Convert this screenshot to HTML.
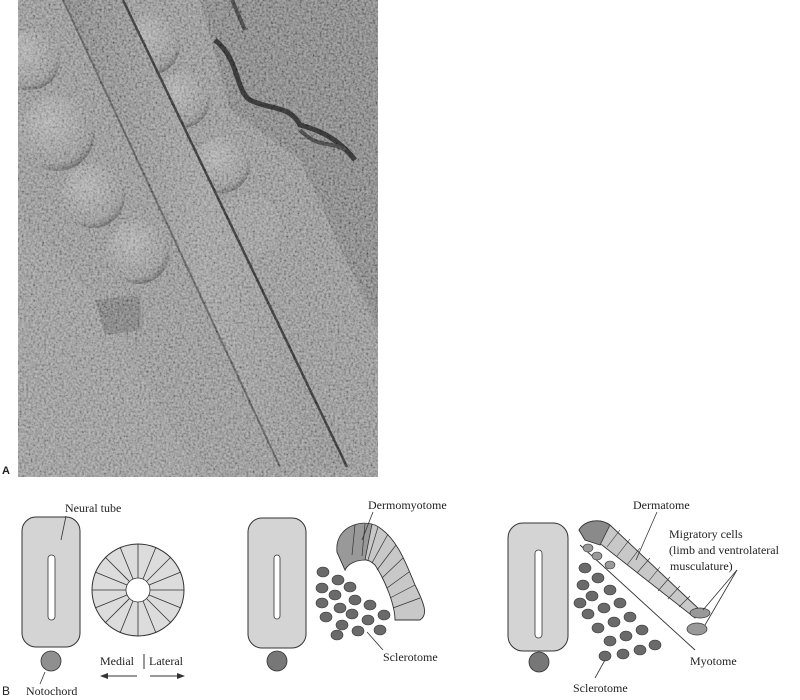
<!DOCTYPE html>
<html><head><meta charset="utf-8"><style>
html,body{margin:0;padding:0;background:#fff;}
svg{display:block;}
text{font-family:"Liberation Serif",serif;fill:#222;}
</style></head><body>
<svg width="800" height="700" viewBox="0 0 800 700" xmlns="http://www.w3.org/2000/svg">
<defs>
<filter id="n" x="0" y="0" width="100%" height="100%">
<feTurbulence type="fractalNoise" baseFrequency="0.45" numOctaves="3" seed="3"/>
<feColorMatrix type="matrix" values="1.6 0 0 0 -0.3  1.6 0 0 0 -0.3  1.6 0 0 0 -0.3  0 0 0 0 1"/>
</filter>
<radialGradient id="ball" cx="0.4" cy="0.35" r="0.7">
<stop offset="0" stop-color="#a6a6a6"/><stop offset="0.8" stop-color="#8a8a8a"/><stop offset="1" stop-color="#5a5a5a"/>
</radialGradient>
<linearGradient id="tube" x1="0" y1="0" x2="1" y2="0">
<stop offset="0" stop-color="#7a7a7a"/><stop offset="0.5" stop-color="#959595"/><stop offset="1" stop-color="#858585"/>
</linearGradient>
<clipPath id="ph"><rect x="18" y="0" width="360" height="477"/></clipPath>
</defs>
<g clip-path="url(#ph)">
<rect x="18" y="0" width="360" height="477" fill="#8c8c8c"/>
<polygon points="200,0 378,0 378,330 300,160 230,110" fill="#7c7c7c"/>
<path d="M215,40 C240,60 235,90 250,100 C270,110 290,105 300,125 C320,130 340,140 355,160" stroke="#333" stroke-width="5" fill="none"/>
<path d="M300,130 C320,150 330,140 345,150" stroke="#444" stroke-width="4" fill="none"/>
<path d="M232,0 L245,30" stroke="#444" stroke-width="4"/>
<polygon points="18,220 100,300 200,477 18,477" fill="#909090"/>
<circle cx="57" cy="133" r="38" fill="url(#ball)"/>
<circle cx="30" cy="60" r="30" fill="url(#ball)"/>
<circle cx="93" cy="196" r="32" fill="url(#ball)"/>
<circle cx="138" cy="252" r="32" fill="url(#ball)"/>
<circle cx="150" cy="45" r="30" fill="url(#ball)"/>
<circle cx="182" cy="100" r="28" fill="url(#ball)"/>
<circle cx="222" cy="165" r="28" fill="url(#ball)"/>
<circle cx="250" cy="225" r="30" fill="#929292"/>
<polygon points="95,300 140,295 142,330 105,335" fill="#777"/>
<polygon points="63,0 123,0 347,467 280,467" fill="url(#tube)"/>
<path d="M123,0 L347,467" stroke="#3a3a3a" stroke-width="2.5"/>
<path d="M63,0 L280,467" stroke="#5a5a5a" stroke-width="2"/>
<rect x="18" y="0" width="360" height="477" filter="url(#n)" opacity="0.4" style="mix-blend-mode:overlay"/>
</g>
<text x="2" y="474" font-size="11" font-weight="bold" style="font-family:'Liberation Sans',sans-serif">A</text>

<!-- Panel 1 -->
<rect x="22" y="517" width="58" height="130" rx="14" fill="#d4d4d4" stroke="#333" stroke-width="1"/>
<rect x="48" y="555" width="7" height="65" rx="3.5" fill="#fff" stroke="#333" stroke-width="0.8"/>
<circle cx="51" cy="661" r="10" fill="#8f8f8f" stroke="#333" stroke-width="0.8"/>
<line x1="66" y1="516" x2="61" y2="540" stroke="#333" stroke-width="0.8"/>
<line x1="45" y1="672" x2="40" y2="684" stroke="#333" stroke-width="0.8"/>
<text x="65" y="512" font-size="12">Neural tube</text>
<text x="26" y="695" font-size="12">Notochord</text>
<text x="2" y="695" font-size="12" style="font-family:'Liberation Sans',sans-serif">B</text>
<g transform="translate(-2,8)">
<circle cx="140" cy="582" r="46" fill="#dcdcdc" stroke="#333" stroke-width="1"/>
<g stroke="#333" stroke-width="0.8">
<line x1="140" y1="536" x2="140" y2="570"/><line x1="140" y1="594" x2="140" y2="628"/>
<line x1="94" y1="582" x2="128" y2="582"/><line x1="152" y1="582" x2="186" y2="582"/>
<line x1="107" y1="549" x2="132" y2="574"/><line x1="148" y1="590" x2="173" y2="615"/>
<line x1="173" y1="549" x2="148" y2="574"/><line x1="132" y1="590" x2="107" y2="615"/>
<line x1="122" y1="539" x2="135" y2="571"/><line x1="145" y1="593" x2="158" y2="625"/>
<line x1="158" y1="539" x2="145" y2="571"/><line x1="135" y1="593" x2="122" y2="625"/>
<line x1="97" y1="564" x2="129" y2="577"/><line x1="151" y1="587" x2="183" y2="600"/>
<line x1="183" y1="564" x2="151" y2="577"/><line x1="129" y1="587" x2="97" y2="600"/>
</g>
<circle cx="140" cy="582" r="12" fill="#fff" stroke="#333" stroke-width="0.8"/>
</g>
<text x="100" y="665" font-size="12">Medial</text>
<line x1="144" y1="654" x2="144" y2="669" stroke="#333"/>
<text x="149" y="665" font-size="12">Lateral</text>
<line x1="103" y1="676" x2="137" y2="676" stroke="#333"/><polygon points="100,676 108,673 108,679" fill="#333"/>
<line x1="150" y1="676" x2="182" y2="676" stroke="#333"/><polygon points="185,676 177,673 177,679" fill="#333"/>

<!-- Panel 2 -->
<rect x="248" y="518" width="58" height="130" rx="14" fill="#d4d4d4" stroke="#333"/>
<rect x="274" y="555" width="6" height="64" rx="3" fill="#fff" stroke="#333" stroke-width="0.8"/>
<circle cx="277" cy="661" r="10" fill="#777" stroke="#333" stroke-width="0.8"/>
<path d="M337,552 C335,530 355,520 375,525 C395,535 405,560 415,585 C425,605 428,615 420,620 L395,620 C395,605 385,580 375,565 C365,555 350,560 345,570 Z" fill="#c8c8c8" stroke="#333" stroke-width="0.9"/>
<path d="M337,552 C335,530 355,520 372,524 L365,560 C355,560 347,565 345,570 Z" fill="#999" stroke="#333" stroke-width="0.8"/>
<g stroke="#333" stroke-width="0.7">
<line x1="355" y1="525" x2="352" y2="555"/><line x1="365" y1="524" x2="362" y2="556"/><line x1="378" y1="527" x2="368" y2="560"/>
<line x1="388" y1="534" x2="372" y2="563"/><line x1="396" y1="545" x2="377" y2="570"/><line x1="403" y1="558" x2="382" y2="578"/>
<line x1="409" y1="572" x2="387" y2="588"/><line x1="415" y1="585" x2="390" y2="598"/><line x1="420" y1="598" x2="393" y2="608"/>
</g>
<g fill="#6a6a6a" stroke="#333" stroke-width="0.6">
<ellipse cx="323" cy="572" rx="6" ry="5"/><ellipse cx="338" cy="580" rx="6" ry="5"/><ellipse cx="322" cy="588" rx="6" ry="5"/>
<ellipse cx="350" cy="587" rx="6" ry="5"/><ellipse cx="335" cy="595" rx="6" ry="5"/><ellipse cx="322" cy="603" rx="6" ry="5"/>
<ellipse cx="355" cy="600" rx="6" ry="5"/><ellipse cx="340" cy="608" rx="6" ry="5"/><ellipse cx="370" cy="605" rx="6" ry="5"/>
<ellipse cx="326" cy="617" rx="6" ry="5"/><ellipse cx="352" cy="614" rx="6" ry="5"/><ellipse cx="368" cy="620" rx="6" ry="5"/>
<ellipse cx="342" cy="625" rx="6" ry="5"/><ellipse cx="358" cy="631" rx="6" ry="5"/><ellipse cx="384" cy="615" rx="6" ry="5"/>
<ellipse cx="337" cy="635" rx="6" ry="5"/><ellipse cx="380" cy="630" rx="6" ry="5"/>
</g>
<line x1="373" y1="512" x2="362" y2="540" stroke="#333" stroke-width="0.8"/>
<line x1="367" y1="632" x2="383" y2="650" stroke="#333" stroke-width="0.8"/>
<text x="368" y="509" font-size="12">Dermomyotome</text>
<text x="383" y="661" font-size="12">Sclerotome</text>

<!-- Panel 3 -->
<rect x="508" y="523" width="60" height="128" rx="15" fill="#d4d4d4" stroke="#333"/>
<rect x="535" y="550" width="7" height="88" rx="3.5" fill="#fff" stroke="#333" stroke-width="0.8"/>
<circle cx="539" cy="662" r="10" fill="#777" stroke="#333" stroke-width="0.8"/>
<path d="M579,530 C585,520 600,518 610,525 L700,610 L695,618 L602,545 L585,540 Z" fill="#c8c8c8" stroke="#333" stroke-width="0.9"/>
<path d="M579,530 C585,520 600,518 610,525 L600,545 L585,540 Z" fill="#8a8a8a" stroke="#333" stroke-width="0.8"/>
<g stroke="#333" stroke-width="0.6">
<line x1="620" y1="530" x2="607" y2="547"/><line x1="630" y1="539" x2="617" y2="556"/><line x1="640" y1="548" x2="627" y2="565"/>
<line x1="650" y1="558" x2="637" y2="573"/><line x1="660" y1="567" x2="648" y2="582"/><line x1="670" y1="577" x2="658" y2="591"/>
<line x1="680" y1="586" x2="668" y2="599"/><line x1="690" y1="596" x2="679" y2="607"/>
</g>
<ellipse cx="700" cy="613" rx="10" ry="5" fill="#999" stroke="#333" stroke-width="0.7"/>
<ellipse cx="697" cy="629" rx="10" ry="6" fill="#999" stroke="#333" stroke-width="0.7"/>
<line x1="580" y1="545" x2="695" y2="650" stroke="#333" stroke-width="0.9"/>
<g fill="#6a6a6a" stroke="#333" stroke-width="0.6">
<ellipse cx="588" cy="548" rx="5" ry="4" fill="#999"/><ellipse cx="597" cy="556" rx="5" ry="4" fill="#999"/><ellipse cx="610" cy="565" rx="5" ry="4" fill="#999"/>
<ellipse cx="585" cy="568" rx="6" ry="5"/><ellipse cx="598" cy="578" rx="6" ry="5"/><ellipse cx="583" cy="585" rx="6" ry="5"/>
<ellipse cx="610" cy="590" rx="6" ry="5"/><ellipse cx="592" cy="596" rx="6" ry="5"/><ellipse cx="580" cy="603" rx="6" ry="5"/>
<ellipse cx="620" cy="603" rx="6" ry="5"/><ellipse cx="604" cy="608" rx="6" ry="5"/><ellipse cx="588" cy="614" rx="6" ry="5"/>
<ellipse cx="630" cy="617" rx="6" ry="5"/><ellipse cx="614" cy="622" rx="6" ry="5"/><ellipse cx="598" cy="628" rx="6" ry="5"/>
<ellipse cx="642" cy="630" rx="6" ry="5"/><ellipse cx="626" cy="636" rx="6" ry="5"/><ellipse cx="610" cy="641" rx="6" ry="5"/>
<ellipse cx="640" cy="650" rx="6" ry="5"/><ellipse cx="623" cy="654" rx="6" ry="5"/><ellipse cx="605" cy="656" rx="6" ry="5"/>
<ellipse cx="655" cy="645" rx="6" ry="5"/>
</g>
<line x1="657" y1="512" x2="636" y2="560" stroke="#333" stroke-width="0.8"/>
<line x1="737" y1="570" x2="703" y2="610" stroke="#333" stroke-width="0.8"/>
<line x1="737" y1="570" x2="705" y2="625" stroke="#333" stroke-width="0.8"/>
<line x1="605" y1="660" x2="595" y2="678" stroke="#333" stroke-width="0.8"/>
<text x="633" y="509" font-size="12">Dermatome</text>
<text x="669" y="538" font-size="12">Migratory cells</text>
<text x="669" y="554" font-size="12">(limb and ventrolateral</text>
<text x="670" y="570" font-size="12">musculature)</text>
<text x="690" y="665" font-size="12">Myotome</text>
<text x="573" y="692" font-size="12">Sclerotome</text>
</svg>
</body></html>
